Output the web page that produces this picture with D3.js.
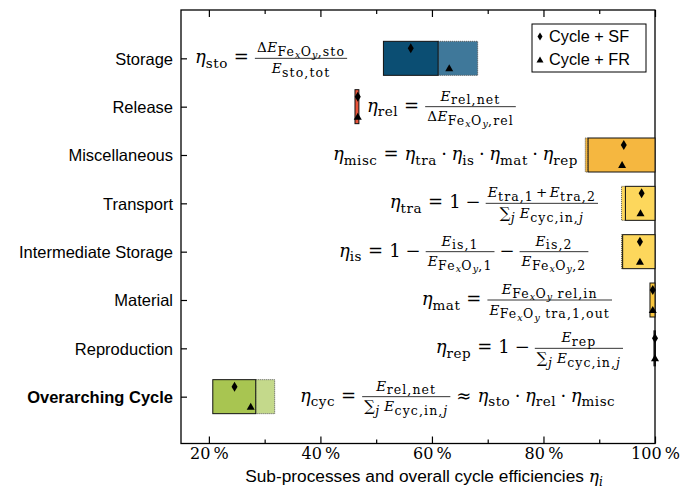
<!DOCTYPE html>
<html><head><meta charset="utf-8">
<script src="https://cdn.jsdelivr.net/npm/d3@7"></script>
<style>body{margin:0;background:#fff}</style>
</head><body><svg id="chart" width="693" height="494"></svg>
<script>
// Efficiency ranges of the sub-processes (in %)
const categories = ["Storage","Release","Miscellaneous","Transport","Intermediate Storage","Material","Reproduction","Overarching Cycle"];
const solidLo = [51.3, 46.2, 88.0, 94.7, 94.2, 99.1, 99.9, 20.7];
const solidHi = [61.1, 46.9, 100, 100, 100, 100, 100, 28.4];
const extLo   = [61.1, null, 87.5, 94.0, 94.0, null, null, 28.4];
const extHi   = [68.2, null, 88.0, 94.7, 94.2, null, null, 31.8];
const cycleSF = [56.2, 46.7, 94.4, 97.6, 97.3, 99.6, 100, 24.6];
const cycleFR = [63.1, 46.7, 94.1, 97.4, 97.3, 99.6, 100, 27.5];
const xTicks = [20, 40, 60, 80, 100];
const xMinorTicks = [30, 50, 70, 90];
const legendLabels = ["Cycle + SF", "Cycle + FR"];

const fillSolid = ["#0b4e73","#e9543a","#f5b740","#fdd75c","#fdd75c","#f9c63e","#f9c63e","#a8c551"];
const fillExt   = ["#3f789a", null, "#f5b740","#fdd75c","#fdd75c", null, null, "#c4d98b"];

const svg = d3.select("#chart");
const M = {left: 181, right: 655, top: 10, bottom: 443.5};
const SANS = "'Liberation Sans', Arial, sans-serif";
const SERIF = "'DejaVu Serif', 'Liberation Serif', serif";

const x = d3.scaleLinear().domain([15, 100]).range([M.left, M.right]);
const y = d3.scalePoint().domain(categories).range([M.top, 445]).padding(1);
const barH = 34;

// frame
svg.append("rect").attr("x", M.left).attr("y", M.top)
  .attr("width", M.right - M.left).attr("height", M.bottom - M.top)
  .attr("fill", "none").attr("stroke", "#000").attr("stroke-width", 1.3);

// x ticks (inward, bottom and top)
function xTickRow(yPos, axisFn, values, len, fmt) {
  const g = svg.append("g").attr("transform", `translate(0,${yPos})`)
    .call(axisFn(x).tickValues(values).tickSizeInner(-len).tickSizeOuter(0).tickPadding(0).tickFormat(fmt));
  g.select(".domain").remove();
  g.selectAll("line").attr("stroke-width", 1.2);
  return g;
}
const gx = xTickRow(M.bottom, d3.axisBottom, xTicks, 7, d => d + "\u2009%");
gx.selectAll("text").attr("font-family", SERIF).attr("font-size", 16)
  .attr("dy", null).attr("y", 15).attr("fill", "#000");
xTickRow(M.bottom, d3.axisBottom, xMinorTicks, 4, "");
xTickRow(M.top, d3.axisTop, xTicks, 7, "");
xTickRow(M.top, d3.axisTop, xMinorTicks, 4, "");

// y axis (inward ticks, labels on the left)
const gy = svg.append("g").attr("transform", `translate(${M.left},0)`)
  .call(d3.axisLeft(y).tickSizeInner(-6).tickSizeOuter(0).tickPadding(8));
gy.select(".domain").remove();
gy.selectAll("line").attr("stroke-width", 1.2);
gy.selectAll("text").attr("font-family", SANS).attr("font-size", 16.5).attr("fill", "#000")
  .attr("x", -8).attr("dy", "0.36em")
  .attr("font-weight", d => d === "Overarching Cycle" ? "bold" : "normal");

// axis title
const title = svg.append("text").attr("y", 482).attr("font-family", SANS)
  .attr("font-size", 17.3).attr("text-anchor", "middle").attr("x", 424);
title.append("tspan").text("Sub-processes and overall cycle efficiencies ");
title.append("tspan").attr("font-family", SERIF).attr("font-style", "italic").attr("font-size", 17).text("η");
title.append("tspan").attr("font-family", SERIF).attr("font-style", "italic").attr("font-size", 12).attr("dy", 4).text("i");

// bars
const rows = categories.map((c, i) => ({c, i}));
const bars = svg.append("g");
bars.selectAll("rect.ext").data(rows.filter(r => extLo[r.i] !== null)).join("rect")
  .attr("class", "ext")
  .attr("x", r => x(extLo[r.i])).attr("width", r => x(extHi[r.i]) - x(extLo[r.i]))
  .attr("y", r => y(r.c) - barH / 2).attr("height", barH)
  .attr("fill", r => fillExt[r.i]).attr("stroke", "#555").attr("stroke-width", 1)
  .attr("stroke-dasharray", "1,1");
bars.selectAll("rect.solid").data(rows).join("rect")
  .attr("class", "solid")
  .attr("x", r => x(solidLo[r.i])).attr("width", r => x(solidHi[r.i]) - x(solidLo[r.i]))
  .attr("y", r => y(r.c) - barH / 2).attr("height", barH)
  .attr("fill", r => fillSolid[r.i]).attr("stroke", "#111")
  .attr("stroke-width", r => categories[r.i] === "Reproduction" ? 2 : 1);

// markers
const diamond = (cx, cy, w, h) => `M${cx},${cy - h/2}L${cx + w/2},${cy}L${cx},${cy + h/2}L${cx - w/2},${cy}Z`;
const triangle = (cx, cy, w, h) => `M${cx - w/2},${cy + h/2}L${cx + w/2},${cy + h/2}L${cx},${cy - h/2}Z`;
svg.append("g").selectAll("path").data(rows).join("path")
  .attr("d", r => diamond(x(cycleSF[r.i]), y(r.c) - 10, 6, 10)).attr("fill", "#000");
svg.append("g").selectAll("path").data(rows).join("path")
  .attr("d", r => triangle(x(cycleFR[r.i]), y(r.c) + 9.5, 8, 7)).attr("fill", "#000");

// legend
const lg = svg.append("g");
lg.append("rect").attr("x", 532).attr("y", 24).attr("width", 114).attr("height", 48)
  .attr("fill", "#fff").attr("stroke", "#000").attr("stroke-width", 1);
legendLabels.forEach((t, k) => {
  const cy = 36.5 + k * 23;
  lg.append("path").attr("d", k === 0 ? diamond(540, cy, 5, 8) : triangle(540, cy, 7, 6)).attr("fill", "#000");
  lg.append("text").attr("x", 549).attr("y", cy).attr("dy", "0.36em")
    .attr("font-family", SANS).attr("font-size", 16.3).text(t);
});

// ---- small math typesetter for the efficiency definitions ----
const it = t => ({t, i: true});
const rm = t => ({t, i: false});
const big = t => ({t, i: false, scale: 1.1});
const sb = (...c) => ({sub: c});
const fr = (n, d) => ({frac: [n, d]});
const gap = w => ({gap: w});
const sizes = [18, 13.5, 12.5, 9.5];
const spacing = [0, 0.5, 1.1, 0.3];
const drop = [4.5, 3.5, 2.5, 2];
const FeO = [rm("Fe"), sb(it("x")), rm("O"), sb(it("y"))];
const sumCyc = [big("∑"), sb(it("j")), gap(4), it("E"), sb(rm("cyc,in,"), it("j"))];

function flat(items, level, dy, out) {
  let pending = 0;
  for (const o of items) {
    if (o.gap !== undefined) { pending += o.gap; continue; }
    if (o.sub) { flat(o.sub, Math.min(level + 1, 3), dy + drop[level], out); continue; }
    out.push({t: o.t, i: o.i, scale: o.scale || 1, level, dy, dx: pending});
    pending = 0;
  }
  out.trail = (out.trail || 0) + pending;
  return out;
}
function run(g, items, x0, base, level) {
  const txt = g.append("text").attr("x", x0).attr("y", base)
    .attr("font-family", SERIF).attr("fill", "#000");
  const segs = flat(items, level, 0, []);
  segs.forEach(s => {
    txt.append("tspan").attr("y", base + s.dy).attr("dx", s.dx || null)
      .attr("font-size", sizes[s.level] * s.scale).attr("letter-spacing", spacing[s.level])
      .attr("font-style", s.i ? "italic" : "normal").text(s.t);
  });
  const b = txt.node().getBBox();
  return {node: txt, w: b.x + b.width - x0 + segs.trail};
}
function formula(items, axisY) {
  const g = svg.append("g");
  const base = axisY + 5;
  let cur = 0, buf = [];
  const flush = () => {
    if (!buf.length) return;
    const r = run(g, buf, cur, base, 0);
    cur += r.w; buf = [];
  };
  for (const o of items) {
    if (o.frac) {
      flush();
      const pad = 2;
      const n = run(g, o.frac[0], 0, axisY - 6, 1);
      const d = run(g, o.frac[1], 0, axisY + 14.8, 1);
      const w = Math.max(n.w, d.w) + 2 * pad;
      n.node.attr("x", cur + (w - n.w) / 2);
      d.node.attr("x", cur + (w - d.w) / 2);
      g.append("line").attr("x1", cur).attr("x2", cur + w).attr("y1", axisY).attr("y2", axisY)
        .attr("stroke", "#000").attr("stroke-width", 0.8);
      cur += w;
    } else buf.push(o);
  }
  flush();
  return {g, w: cur};
}

const eq = [gap(6), rm("="), gap(6)];
const minus = [gap(5), rm("−"), gap(5)];
const dot = [gap(4.5), rm("·"), gap(4.5)];
// placement: left edge ("start") or right edge ("end") of each definition
const formulas = [
  {c: "Storage", anchor: "start", at: 195, f: [it("η"), sb(rm("sto")), ...eq,
    fr([rm("Δ"), it("E"), sb(...FeO, rm(",sto"))], [it("E"), sb(rm("sto,tot"))])]},
  {c: "Release", anchor: "start", at: 367, f: [it("η"), sb(rm("rel")), ...eq,
    fr([it("E"), sb(rm("rel,net"))], [rm("Δ"), it("E"), sb(...FeO, rm(",rel"))])]},
  {c: "Miscellaneous", anchor: "start", at: 333, f: [it("η"), sb(rm("misc")), ...eq, it("η"), sb(rm("tra")), ...dot,
    it("η"), sb(rm("is")), ...dot, it("η"), sb(rm("mat")), ...dot, it("η"), sb(rm("rep"))]},
  {c: "Transport", anchor: "end", at: 598, f: [it("η"), sb(rm("tra")), ...eq, rm("1"), ...minus,
    fr([it("E"), sb(rm("tra,1")), gap(2), rm("+"), gap(2), it("E"), sb(rm("tra,2"))], sumCyc)]},
  {c: "Intermediate Storage", anchor: "start", at: 339, f: [it("η"), sb(rm("is")), ...eq, rm("1"), ...minus,
    fr([it("E"), sb(rm("is,1"))], [it("E"), sb(...FeO, rm(",1"))]), ...minus,
    fr([it("E"), sb(rm("is,2"))], [it("E"), sb(...FeO, rm(",2"))])]},
  {c: "Material", anchor: "end", at: 612, f: [it("η"), sb(rm("mat")), ...eq,
    fr([it("E"), sb(...FeO, rm(" rel,in"))], [it("E"), sb(...FeO, rm(" tra,1,out"))])]},
  {c: "Reproduction", anchor: "end", at: 623, f: [it("η"), sb(rm("rep")), ...eq, rm("1"), ...minus,
    fr([it("E"), sb(rm("rep"))], sumCyc)]},
  {c: "Overarching Cycle", anchor: "start", at: 300, f: [it("η"), sb(rm("cyc")), ...eq,
    fr([it("E"), sb(rm("rel,net"))], sumCyc), gap(6), rm("≈"), gap(6),
    it("η"), sb(rm("sto")), ...dot, it("η"), sb(rm("rel")), ...dot, it("η"), sb(rm("misc"))]}
];
formulas.forEach(F => {
  const r = formula(F.f, y(F.c));
  r.g.attr("transform", `translate(${F.anchor === "end" ? F.at - r.w : F.at},0)`);
});
</script>
</body></html>
